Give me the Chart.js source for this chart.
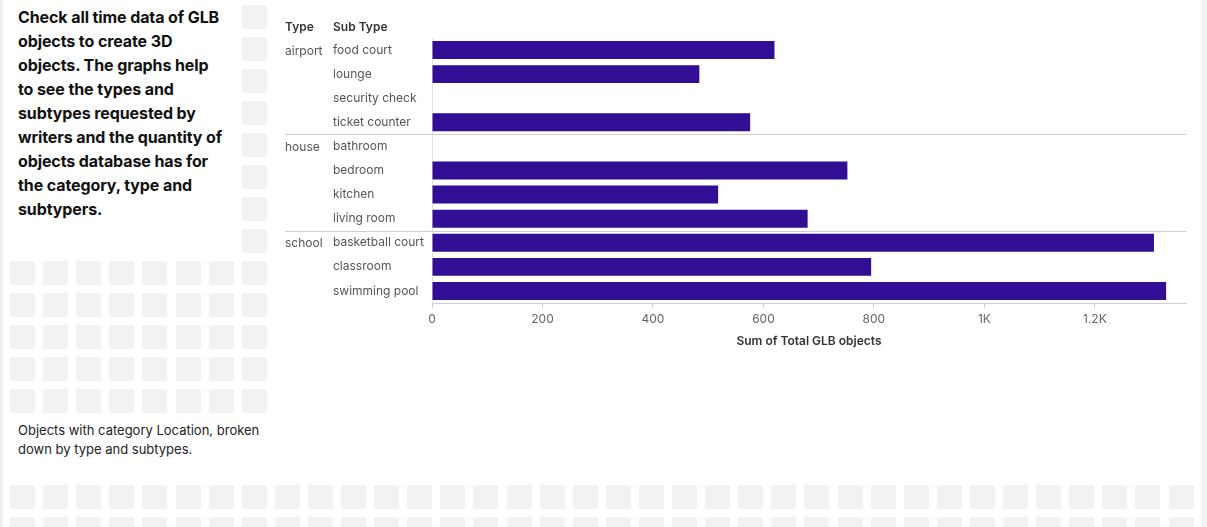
<!DOCTYPE html>
<html>
<head>
<meta charset="utf-8">
<script src="https://cdn.jsdelivr.net/npm/chart.js@4"></script>
<style>
  body { margin:0; width:1207px; height:527px; overflow:hidden; background:#fff; font-family:Inter, "Noto Sans", sans-serif; position:relative; }
  .sq { position:absolute; width:25px; height:24px; background:#f2f2f2; }
  #edgeL { position:absolute; left:0; top:0; width:3px; height:527px; background:#efefef; }
  #edgeR { position:absolute; left:1201px; top:0; width:6px; height:527px; background:#f4f4f4; }
  #title { position:absolute; left:18px; top:5px; font-size:16px; font-weight:700; line-height:24px; color:#111; letter-spacing:-0.1px; }
  #caption { position:absolute; left:18px; top:421px; font-size:13px; line-height:19px; color:#222; }
  #wrap { position:absolute; left:270px; top:0; width:930px; height:350px; }
</style>
</head>
<body>
<div id="edgeL"></div>
<div id="edgeR"></div>
<div id="bg"></div>
<div id="title">Check all time data of GLB<br>objects to create 3D<br>objects. The graphs help<br>to see the types and<br>subtypes requested by<br>writers and the quantity of<br>objects database has for<br>the category, type and<br>subtypers.</div>
<div id="caption">Objects with category Location, broken<br>down by type and subtypes.</div>
<div id="wrap"><canvas id="glbChart"></canvas></div>

<script>
// data
const types = ["airport", "house", "school"];
const typeSizes = [4, 4, 3];
const subTypes = ["food court", "lounge", "security check", "ticket counter",
  "bathroom", "bedroom", "kitchen", "living room",
  "basketball court", "classroom", "swimming pool"];
const glbCounts = [620, 484, 0, 576, 0, 752, 518, 680, 1307, 795, 1329];
const tickValues = [0, 200, 400, 600, 800, 1000, 1200];

// background squares (decoration only)
const bg = document.getElementById("bg");
function addSq(x, y){
  const d = document.createElement("div");
  d.className = "sq";
  d.style.left = x + "px";
  d.style.top = y + "px";
  bg.appendChild(d);
}
for(let r=0;r<5;r++){
  for(let c=0;c<7;c++) addSq(10 + c*33.1, 261 + r*32);
}
for(let r=0;r<13;r++) addSq(242, 5 + r*32);
for(let r=0;r<2;r++){
  for(let c=0;c<36;c++) addSq(10 + c*33.1, 485 + r*32);
}

const FONT = "Inter, 'Noto Sans', sans-serif";

// type labels, header and group separators
const groupPlugin = {
  id: "groups",
  afterDraw(chart){
    const ctx = chart.ctx;
    const y = chart.scales.y;
    const area = chart.chartArea;
    ctx.save();
    ctx.textBaseline = "middle";
    ctx.textAlign = "left";
    ctx.fillStyle = "#333";
    ctx.font = "600 12px " + FONT;
    ctx.fillText("Type", 15, 27);
    ctx.fillText("Sub Type", 63, 27);

    ctx.font = "12px " + FONT;
    ctx.fillStyle = "#555";
    let idx = 0;
    types.forEach((t, i) => {
      ctx.fillText(t, 15, y.getPixelForValue(idx) + 1);
      idx += typeSizes[i];
      if(i < types.length - 1){
        const yy = Math.round((y.getPixelForValue(idx - 1) + y.getPixelForValue(idx)) / 2) + 0.5;
        ctx.strokeStyle = "#cfcfcf";
        ctx.lineWidth = 1;
        ctx.beginPath();
        ctx.moveTo(15, yy);
        ctx.lineTo(area.right, yy);
        ctx.stroke();
      }
    });
    ctx.restore();
  }
};

new Chart(document.getElementById("glbChart"), {
  type: "bar",
  data: {
    labels: subTypes,
    datasets: [{
      label: "Sum of Total GLB objects",
      data: glbCounts,
      backgroundColor: "#310e94",
      barPercentage: 0.745,
      categoryPercentage: 1
    }]
  },
  options: {
    indexAxis: "y",
    responsive: true,
    maintainAspectRatio: false,
    animation: false,
    layout: { padding: { left: 63, top: 38, right: 14, bottom: 0 } },
    plugins: { legend: { display: false }, tooltip: { enabled: false } },
    scales: {
      x: {
        min: 0,
        max: 1365,
        afterFit: s => { s.height = 47; },
        afterBuildTicks: s => { s.ticks = tickValues.map(v => ({ value: v })); },
        ticks: {
          padding: 4,
          color: "#666",
          font: { family: FONT, size: 12 },
          callback: v => v >= 1000 ? (v / 1000) + "K" : v
        },
        grid: { drawOnChartArea: false, drawTicks: true, tickLength: 5, color: "#cfcfcf" },
        border: { display: true, color: "#cfcfcf" },
        title: {
          display: true,
          text: "Sum of Total GLB objects",
          color: "#333",
          font: { family: FONT, size: 12, weight: "600" },
          padding: { top: 0, bottom: 1 }
        }
      },
      y: {
        afterFit: s => { s.width = 99; },
        ticks: {
          crossAlign: "far",
          padding: 0,
          color: "#555",
          font: { family: FONT, size: 12 }
        },
        grid: { drawOnChartArea: false, drawTicks: false, tickLength: 0 },
        border: { display: true, color: "#e2e2e2" }
      }
    }
  },
  plugins: [groupPlugin]
});
</script>
</body>
</html>
